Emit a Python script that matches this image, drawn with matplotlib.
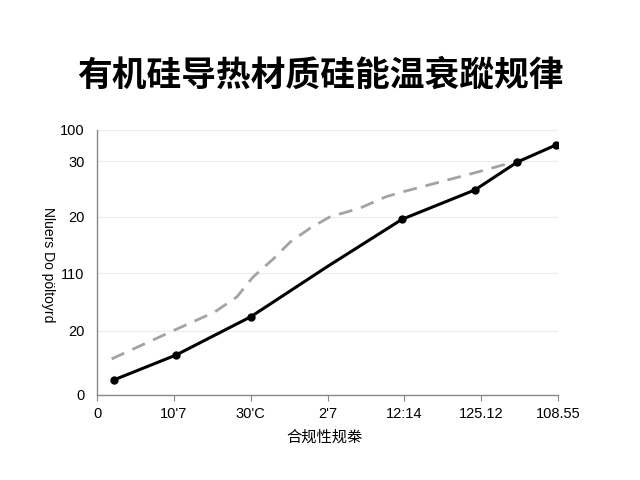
import matplotlib
matplotlib.use("Agg")
import matplotlib.pyplot as plt

# Data
solid_x = [0.22, 1.03, 2.0, 3.0, 3.97, 4.92, 5.47, 5.97]
solid_y = [5.7, 15.1, 29.5, 48.5, 66.3, 77.4, 87.9, 94.3]
solid_markers = [0, 1, 2, 4, 5, 6, 7]

dash_x = [0.19, 1.04, 1.53, 1.82, 2.03, 2.3, 2.51, 2.77, 3.03, 3.42, 3.76, 3.97, 4.91, 5.52]
dash_y = [13.6, 24.9, 31.3, 37.0, 44.5, 51.5, 57.6, 62.9, 67.2, 70.5, 74.8, 76.6, 83.8, 88.7]

xtick_pos = [0, 1, 2, 3, 4, 5, 6]
xtick_labels = ["0", "10'7", "30'C", "2'7", "12:14", "125.12", "108.55"]
ytick_pos = [0, 24.2, 46, 67.2, 88.3, 100]
ytick_labels = ["0", "20", "110", "20", "30", "100"]

title = "有机硅导热材质硅能温衰蹤规律"
xlabel = "合规性规桊"
ylabel = "Nluers Do pöltoyrd"

cjk = ["Noto Sans CJK SC", "DejaVu Sans"]
latin = ["Liberation Sans", "DejaVu Sans"]

fig = plt.figure(figsize=(6.4, 4.8), dpi=100)
ax = fig.add_axes([97/640, 1 - 395/480, (558-97)/640, (395-130)/480])

ax.plot(dash_x, dash_y, color="#a3a3a3", lw=2.0, dashes=(5, 3.2), zorder=2)
ax.plot(solid_x, solid_y, color="black", lw=2.2, marker="o", ms=5,
        markevery=solid_markers, zorder=3)

ax.set_xlim(0, 6)
ax.set_ylim(0, 100)
ax.set_xticks(xtick_pos)
ax.set_xticklabels(xtick_labels, fontfamily=latin, fontsize=10.5)
ax.set_yticks(ytick_pos)
ax.set_yticklabels(ytick_labels, fontfamily=latin, fontsize=10.5)
ax.tick_params(axis="x", length=4, width=0.8, color="#888888", pad=5)
ax.tick_params(axis="y", length=0, pad=9)

ax.grid(axis="y", color="#ececec", lw=0.8)
ax.set_axisbelow(True)
for s in ["top", "right"]:
    ax.spines[s].set_visible(False)
for s in ["left", "bottom"]:
    ax.spines[s].set_color("#888888")
    ax.spines[s].set_linewidth(1.0)

fig.text(0.5, 1 - 75/480, title, ha="center", va="center", fontsize=25,
         fontweight="bold", family=cjk)
fig.text(325/640, 1 - 437/480, xlabel, ha="center", va="center", fontsize=11,
         family=cjk)
fig.text(48/640, 1 - 265/480, ylabel, ha="center", va="center", fontsize=10,
         rotation=270, family=latin)

fig.savefig("out.png", dpi=100)
